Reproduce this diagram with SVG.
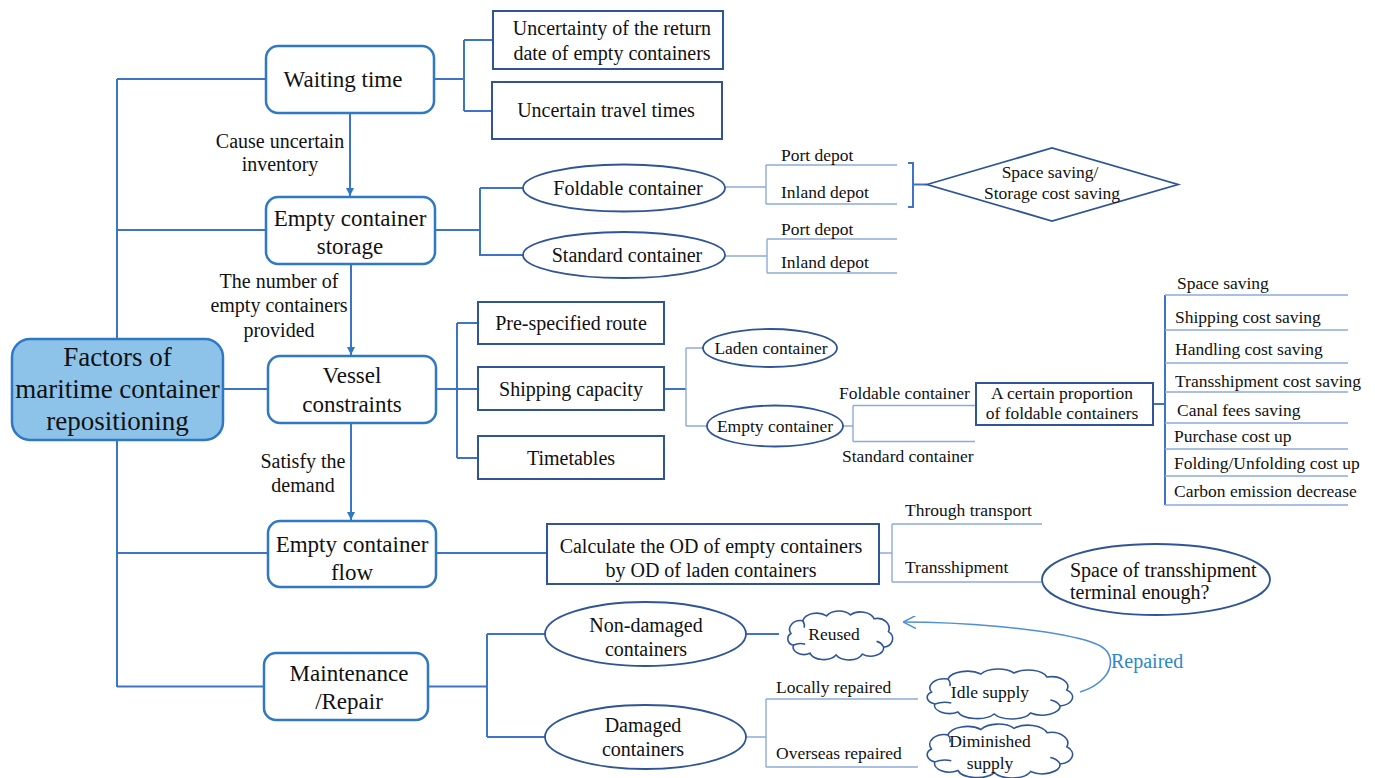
<svg xmlns="http://www.w3.org/2000/svg" xmlns:xlink="http://www.w3.org/1999/xlink" width="1375" height="778" viewBox="0 0 1375 778" font-family="'Liberation Serif', 'DejaVu Serif', 'Times New Roman', serif">
<style>
.conn{stroke:#3E74C6;stroke-width:2;fill:none}
.thin{stroke:#8EAADB;stroke-width:1.4;fill:none}
.rbox{fill:#fff;stroke:#2E78C4;stroke-width:2.5}
.main{fill:#8DC3E9;stroke:#2E78C4;stroke-width:2.5}
.box{fill:#fff;stroke:#2F5597;stroke-width:2}
.ell{fill:#fff;stroke:#2F5597;stroke-width:1.8}
.cl{fill:#fff;stroke:#2F5597;stroke-width:1.6;vector-effect:non-scaling-stroke}
text{font-family:'Liberation Serif','DejaVu Serif','Times New Roman',serif;fill:#111}
.t27{font-size:27px;text-anchor:middle}
.t23{font-size:23px;text-anchor:middle}
.t20{font-size:20px;text-anchor:middle}
.t20s{font-size:20px}
.t17{font-size:17.5px}
.t17m{font-size:17.5px;text-anchor:middle}
.rep{font-size:20px;fill:#2B88C8}
</style>
<defs>
<marker id="arr" viewBox="0 0 10 10" refX="10" refY="5" markerWidth="8" markerHeight="8" markerUnits="userSpaceOnUse" orient="auto"><path d="M0,0 L10,5 L0,10 Z" fill="#2E78C4"/></marker>
<marker id="open" viewBox="0 0 10 10" refX="10" refY="5" markerWidth="13" markerHeight="13" markerUnits="userSpaceOnUse" orient="auto"><path d="M0,0 L10,5 L0,10" fill="none" stroke="#4F8FD6" stroke-width="1.2"/></marker>
<g id="cloud">
<path class="cl" d="M10,24 A9,9 0 0 1 20,11 A12,10 0 0 1 40,6 A12,10 0 0 1 60,5 A12,10 0 0 1 80,9 A10,10 0 0 1 92,22 A9,9 0 0 1 88,38 A11,9 0 0 1 70,45 A12,9 0 0 1 48,46 A12,9 0 0 1 26,44 A9,8 0 0 1 12,36 A7,7 0 0 1 10,24 Z"/>
<path class="cl" fill="none" d="M12,36 Q17,33 22,35 M88,38 Q86,33 82,32 M20,11 Q22,15 21,18"/>
</g>
</defs>

<g id="connectors">
<path class="conn" d="M117,79 V687 M117,79 H266 M117,230 H266 M223,389 H268 M117,553 H268 M117,686.5 H264"/>
<path class="conn" d="M350,113 V196" marker-end="url(#arr)"/>
<path class="conn" d="M351,264 V355" marker-end="url(#arr)"/>
<path class="conn" d="M351,423 V520" marker-end="url(#arr)"/>
<path class="conn" d="M434,79 H464 M464,40 V111 M464,40 H493 M464,111 H492"/>
<path class="conn" d="M435,230 H480 M480,188 V256 M480,188 H524 M480,255 H524"/>
<path class="thin" d="M725,187 H766 M766,165 V204 M766,165 H897 M766,204 H897"/>
<path class="thin" d="M725,256 H767 M767,239 V273 M767,239 H897 M767,273 H897"/>
<path class="conn" d="M908,163 H913 V207 H908 M913,184.5 H927"/>
<path class="conn" d="M436,389 H478 M457,323 V458 M457,323 H478 M457,458 H478"/>
<path class="conn" d="M664,389 H686"/>
<path class="thin" d="M686,348 V426 M686,348 H703 M686,426 H707"/>
<path class="thin" d="M843,426 H853 M853,405.5 V441.5 M853,405.5 H976 M853,441.5 H975"/>
<path class="conn" d="M1153,404 H1165 M1165,295 V505"/>
<path class="thin" d="M1165,295 H1348 M1165,330 H1348 M1165,363 H1348 M1165,392 H1348 M1165,423 H1348 M1165,449 H1348 M1165,476 H1348 M1165,505 H1348"/>
<path class="conn" d="M436,553 H547"/>
<path class="thin" d="M879,553 H892 M892,524 V582 M892,524 H1042 M892,582 H1043"/>
<path class="conn" d="M428,686.5 H487 M487,634 V737 M487,634 H545 M487,737 H545 M746,634 H779"/>
<path class="thin" d="M746,737 H766 M766,699 V767 M766,699 H918 M766,767 H918"/>
<path d="M1080,692 C1100,686 1113,672 1110,658 C1108,648 1098,644 1085,640 C1040,628 960,622 903,622" fill="none" stroke="#4F8FD6" stroke-width="1.6" marker-end="url(#open)"/>
</g>

<g id="n-main"><rect class="main" x="12" y="339" width="211" height="101" rx="18"/>
<text class="t27" x="117.5" y="366">Factors of</text><text class="t27" x="117.5" y="398">maritime container</text><text class="t27" x="117.5" y="430">repositioning</text></g>

<g id="n-waiting"><rect class="rbox" x="266" y="46" width="168" height="67" rx="12"/><text class="t23" x="343" y="87">Waiting time</text></g>
<g id="n-storage"><rect class="rbox" x="266" y="197" width="169" height="67" rx="12"/><text class="t23" x="350" y="226">Empty container</text><text class="t23" x="350" y="254">storage</text></g>
<g id="n-vessel"><rect class="rbox" x="268" y="356" width="168" height="67" rx="12"/><text class="t23" x="352" y="383">Vessel</text><text class="t23" x="352" y="412">constraints</text></g>
<g id="n-flow"><rect class="rbox" x="268" y="521" width="168" height="66" rx="12"/><text class="t23" x="352" y="552">Empty container</text><text class="t23" x="352" y="580">flow</text></g>
<g id="n-maint"><rect class="rbox" x="264" y="653" width="164" height="67" rx="12"/><text class="t23" x="349" y="681">Maintenance</text><text class="t23" x="349" y="709">/Repair</text></g>

<g id="edge-labels">
<text class="t20" x="280" y="148">Cause uncertain</text><text class="t20" x="280" y="171">inventory</text>
<text class="t20" x="279" y="288">The number of</text><text class="t20" x="279" y="312">empty containers</text><text class="t20" x="279" y="337">provided</text>
<text class="t20" x="303" y="468">Satisfy the</text><text class="t20" x="303" y="492">demand</text>
</g>

<g id="n-uncert-return"><rect class="box" x="493" y="11" width="230" height="58"/><text class="t20" x="612" y="35">Uncertainty of the return</text><text class="t20" x="612" y="60">date of empty containers</text></g>
<g id="n-uncert-travel"><rect class="box" x="492" y="82" width="230" height="57"/><text class="t20" x="606" y="117">Uncertain travel times</text></g>

<g id="n-foldable"><ellipse class="ell" cx="624" cy="188" rx="101" ry="23.5"/><text class="t20" x="628" y="195">Foldable container</text></g>
<g id="n-standard"><ellipse class="ell" cx="624" cy="255" rx="101" ry="23"/><text class="t20" x="627" y="262">Standard container</text></g>
<g id="depot-labels">
<text class="t17" x="781" y="161">Port depot</text><text class="t17" x="781" y="198">Inland depot</text>
<text class="t17" x="781" y="235">Port depot</text><text class="t17" x="781" y="268">Inland depot</text>
</g>
<g id="n-space-saving"><polygon class="ell" points="927,184.5 1052,148 1178,184.5 1052,221"/><text class="t17m" x="1050" y="178">Space saving/</text><text class="t17m" x="1052" y="199">Storage cost saving</text></g>

<g id="n-route"><rect class="box" x="478" y="302" width="186" height="42"/><text class="t20" x="571" y="330">Pre-specified route</text></g>
<g id="n-capacity"><rect class="box" x="478" y="367" width="186" height="43"/><text class="t20" x="571" y="396">Shipping capacity</text></g>
<g id="n-timetables"><rect class="box" x="478" y="436" width="186" height="43"/><text class="t20" x="571" y="465">Timetables</text></g>
<g id="n-laden"><ellipse class="ell" cx="770" cy="348" rx="67" ry="19"/><text class="t17m" x="771" y="354">Laden container</text></g>
<g id="n-empty"><ellipse class="ell" cx="775" cy="426" rx="68" ry="20.5"/><text class="t17m" x="775" y="432">Empty container</text></g>
<g id="vessel-labels"><text class="t17" x="839" y="399">Foldable container</text><text class="t17" x="842" y="462">Standard container</text></g>
<g id="n-proportion"><rect class="box" x="976" y="383" width="177" height="42"/><text class="t17m" x="1062" y="399">A certain proportion</text><text class="t17m" x="1062" y="419">of foldable containers</text></g>
<g id="n-effects">
<text class="t17" x="1177" y="289">Space saving</text>
<text class="t17" x="1175" y="323">Shipping cost saving</text>
<text class="t17" x="1175" y="355">Handling cost saving</text>
<text class="t17" x="1175" y="387">Transshipment cost saving</text>
<text class="t17" x="1177" y="416">Canal fees saving</text>
<text class="t17" x="1174" y="442">Purchase cost up</text>
<text class="t17" x="1174" y="469">Folding/Unfolding cost up</text>
<text class="t17" x="1174" y="497">Carbon emission decrease</text>
</g>

<g id="n-calc"><rect class="box" x="547" y="524" width="332" height="60"/><text class="t20" x="711" y="553">Calculate the OD of empty containers</text><text class="t20" x="711" y="577">by OD of laden containers</text></g>
<g id="flow-labels"><text class="t17" x="905" y="516">Through transport</text><text class="t17" x="905" y="573">Transshipment</text></g>
<g id="n-terminal"><ellipse class="ell" cx="1156" cy="579.5" rx="114" ry="35.5"/><text class="t20s" x="1070" y="577">Space of transshipment</text><text class="t20s" x="1070" y="599">terminal enough?</text></g>

<g id="n-nondamaged"><ellipse class="ell" cx="645.5" cy="634" rx="100.5" ry="32"/><text class="t20" x="646" y="632">Non-damaged</text><text class="t20" x="646" y="656">containers</text></g>
<g id="n-damaged"><ellipse class="ell" cx="645.5" cy="737" rx="100.5" ry="32"/><text class="t20" x="643" y="732">Damaged</text><text class="t20" x="643" y="756">containers</text></g>
<g id="repair-labels"><text class="t17" x="776" y="693">Locally repaired</text><text class="t17" x="776" y="759">Overseas repaired</text></g>
<g id="n-reused"><use xlink:href="#cloud" transform="translate(779,610) scale(1.19,0.98)"/><text class="t17m" x="834" y="640">Reused</text></g>
<g id="n-idle"><use xlink:href="#cloud" transform="translate(915,668) scale(1.65,1.0)"/><text class="t17m" x="990" y="698">Idle supply</text></g>
<g id="n-diminished"><use xlink:href="#cloud" transform="translate(915,723) scale(1.65,1.08)"/><text class="t17m" x="990" y="747">Diminished</text><text class="t17m" x="990" y="769">supply</text></g>
<g id="repaired-label"><text class="rep" x="1111" y="668">Repaired</text></g>
</svg>
